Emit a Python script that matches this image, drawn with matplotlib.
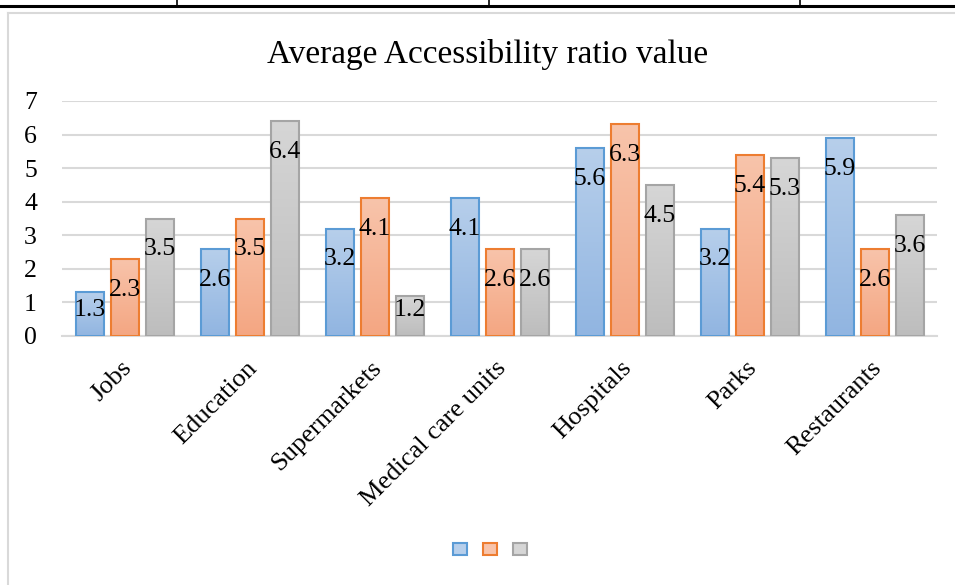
import numpy as np
import matplotlib
matplotlib.use("Agg")
import matplotlib.pyplot as plt
from matplotlib.colors import LinearSegmentedColormap
from matplotlib.patches import Rectangle
from matplotlib.lines import Line2D
import matplotlib.transforms as mtransforms

plt.rcParams['font.family'] = ['Liberation Serif', 'DejaVu Serif']

title = "Average Accessibility ratio value"
categories = ["Jobs", "Education", "Supermarkets", "Medical care units",
              "Hospitals", "Parks", "Restaurants"]
series1 = [1.3, 2.6, 3.2, 4.1, 5.6, 3.2, 5.9]
series2 = [2.3, 3.5, 4.1, 2.6, 6.3, 5.4, 2.6]
series3 = [3.5, 6.4, 1.2, 2.6, 4.5, 5.3, 3.6]
yticks = [0, 1, 2, 3, 4, 5, 6, 7]

series = [series1, series2, series3]
edge_colors = ["#5b9bd5", "#ed7d31", "#a5a5a5"]
grad_top = ["#b7cfeb", "#f8c4ab", "#d6d6d6"]
grad_bot = ["#91b5e1", "#f4a682", "#bdbdbd"]

fig = plt.figure(figsize=(9.55, 5.85), dpi=100)
ax = fig.add_axes([62/955, 1 - 336/585, 875/955, 235/585])

x = np.arange(len(categories))
width = 0.224
stride = 0.28

grad = np.linspace(0, 1, 100).reshape(-1, 1)
for i, vals in enumerate(series):
    cmap = LinearSegmentedColormap.from_list(f"g{i}", [grad_bot[i], grad_top[i]])
    bars = ax.bar(x + (i - 1) * stride, vals, width, facecolor="none",
                  edgecolor=edge_colors[i], linewidth=1.5, zorder=3)
    for b, v in zip(bars, vals):
        x0 = b.get_x()
        im = ax.imshow(grad, extent=[x0, x0 + b.get_width(), 0, v], origin="lower",
                       cmap=cmap, aspect="auto", zorder=2, interpolation="bilinear")
        im.set_clip_path(b)
        ly = max(v - 0.92, 0.78)
        ax.text(b.get_x() + b.get_width() / 2, ly, f"{v:.1f}", ha="center",
                va="center", fontsize=18.5, color="black", zorder=5)

ax.set_xlim(-0.5, len(categories) - 0.5)
ax.set_ylim(0, 7)
ax.set_yticks(yticks)
ax.set_yticklabels([str(t) for t in yticks], fontsize=18.5)
ax.yaxis.grid(True, color="#d9d9d9", linewidth=1.5, zorder=0)
ax.set_axisbelow(True)
for s in ["left", "right", "top"]:
    ax.spines[s].set_visible(False)
ax.spines["bottom"].set_color("#d9d9d9")
ax.spines["bottom"].set_linewidth(1.5)
ax.tick_params(axis="both", length=0)
ax.tick_params(axis="y", pad=18)
ax.set_xticks(x)
ax.set_xticklabels(categories, fontsize=19, rotation=45, ha="right", va="top",
                   rotation_mode="anchor")
ax.tick_params(axis="x", pad=15)
offset = mtransforms.ScaledTranslation(-4/100, 0, fig.dpi_scale_trans)
for lbl in ax.get_xticklabels():
    lbl.set_transform(lbl.get_transform() + offset)

fig.text(488/955, 1 - 55/585, title, ha="center", va="center", fontsize=24)

handles = [Rectangle((0, 0), 1, 1, facecolor=grad_top[i], edgecolor=edge_colors[i],
                     linewidth=1.5) for i in range(3)]
fig.legend(handles, ["", "", ""], loc="center", bbox_to_anchor=(490/955, 1 - 550/585),
           ncol=3, frameon=False, fontsize=10, handlelength=1.0, handleheight=1.0,
           handletextpad=0.0, columnspacing=1.15)

# surrounding page frame
fig.add_artist(Line2D([0, 1], [1 - 6/585, 1 - 6/585], color="black", linewidth=2.2,
                      transform=fig.transFigure))
for xv in [177, 489, 800]:
    fig.add_artist(Line2D([xv/955, xv/955], [1 - 6/585, 1], color="black", linewidth=1.2,
                          transform=fig.transFigure))
fig.add_artist(Line2D([8/955, 1], [1 - 13/585, 1 - 13/585], color="#d9d9d9", linewidth=1.5,
                      transform=fig.transFigure))
fig.add_artist(Line2D([8/955, 8/955], [0, 1 - 13/585], color="#d9d9d9", linewidth=1.5,
                      transform=fig.transFigure))

fig.savefig("out.png", dpi=100)
